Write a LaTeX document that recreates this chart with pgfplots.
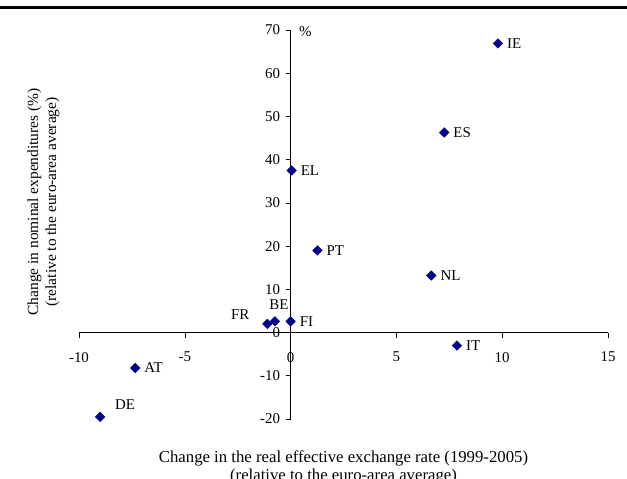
\documentclass[border=0pt]{standalone}
\usepackage{pgfplots}
\pgfplotsset{compat=1.18}
\usepackage{fontspec}
\setmainfont{Liberation Serif}
\definecolor{navy}{HTML}{000080}
\pgfplotsset{pt/.style={only marks, mark=square*, mark size=3.4bp,
     mark options={rotate=45, fill=navy, draw=navy},
     point meta=explicit symbolic, nodes near coords}}
\begin{document}
\begin{tikzpicture}
\begin{axis}[
  scale only axis, width=529bp, height=389bp,
  at={(79bp,60bp)}, anchor=south west,
  axis lines=middle,
  xmin=-10, xmax=15, ymin=-20, ymax=70,
  xtick={-10,-5,0,5,10,15},
  xticklabels={-10,-5,0,5,10,15},
  ytick={-20,-10,0,10,20,30,40,50,60,70},
  yticklabels={-20,-10,0,10,20,30,40,50,60,70},
  hide obscured x ticks=false, hide obscured y ticks=false,
  tick align=outside, major tick length=5bp,
  tick style={black, line width=0.6pt},
  axis line style={black, line width=0.6pt, -},
  ticklabel style={font=\fontsize{15}{17}\selectfont},
  xticklabel style={yshift=-11bp},
  yticklabel style={xshift=-2bp},
  clip=false,
  xlabel={Change in the real effective exchange rate (1999-2005)\\(relative to the euro-area average)},
  xlabel style={at={(rel axis cs:0.5,0)}, anchor=north, yshift=-28bp, align=center, font=\fontsize{16.8}{18}\selectfont},
  ylabel={Change in nominal expenditures (\%)\\(relative to the euro-area average)},
  ylabel style={at={(rel axis cs:0,0.558)}, anchor=center, rotate=90, yshift=35.5bp, align=center, font=\fontsize{15.5}{18}\selectfont},
  nodes near coords style={font=\fontsize{15}{17}\selectfont, text=black, inner sep=0pt},
]
\addplot[pt, nodes near coords style={anchor=west, xshift=9bp}] table[meta=label] {
x y label
9.8 66.9 IE
7.26 46.3 ES
0.05 37.5 EL
1.27 19.0 PT
6.65 13.2 NL
0.0 2.6 FI
7.86 -3.0 IT
-7.34 -8.2 AT
};
\addplot[pt, nodes near coords style={anchor=center, xshift=4bp, yshift=17bp}] table[meta=label] {
x y label
-0.74 2.6 BE
};
\addplot[pt, nodes near coords style={anchor=center, xshift=-27bp, yshift=9bp}] table[meta=label] {
x y label
-1.1 2.0 FR
};
\addplot[pt, nodes near coords style={anchor=center, xshift=25bp, yshift=12bp}] table[meta=label] {
x y label
-9.0 -19.5 DE
};
\node[anchor=west, font=\fontsize{15}{17}\selectfont] at (axis cs:0,70) [xshift=5bp, yshift=-2bp] {\%};
\end{axis}
\pgfresetboundingbox
\path[use as bounding box] (0,0) rectangle (627bp,479bp);
\draw[line width=3bp] (0,471bp) -- (627bp,471bp);
\end{tikzpicture}
\end{document}
